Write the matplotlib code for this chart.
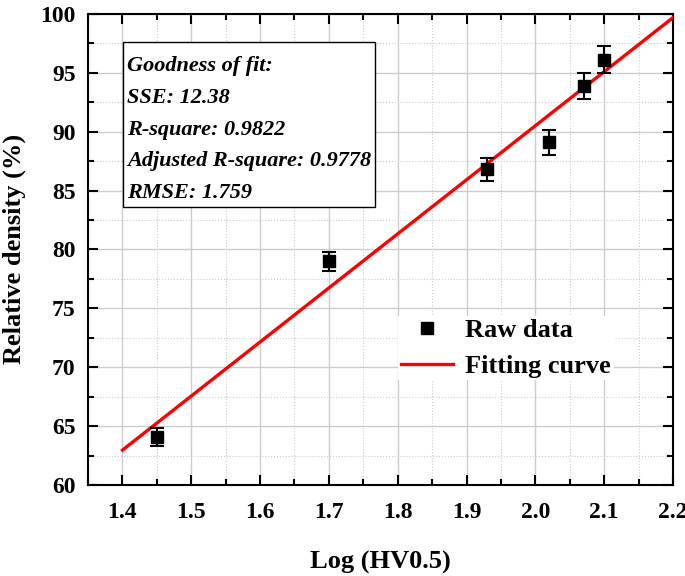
import matplotlib
matplotlib.use("Agg")
import matplotlib.pyplot as plt
from matplotlib.ticker import MultipleLocator
from matplotlib.patches import Rectangle
from matplotlib.lines import Line2D
import numpy as np

# raw data
log_hv = [1.45, 1.70, 1.93, 2.02, 2.07, 2.10]
rel_density = [64.1, 79.0, 86.8, 89.1, 93.9, 96.1]
density_err = [0.75, 0.8, 1.0, 1.05, 1.1, 1.15]

# linear fit
fit_slope = 45.9
fit_intercept = -1.3
fit_range = [1.4, 2.2]

x_ticks = [1.4, 1.5, 1.6, 1.7, 1.8, 1.9, 2.0, 2.1, 2.2]

stats_lines = ["Goodness of fit:", "SSE: 12.38", "R-square: 0.9822",
               "Adjusted R-square: 0.9778", "RMSE: 1.759"]

plt.rcParams['font.family'] = ['Liberation Serif', 'DejaVu Serif']

fig = plt.figure(figsize=(6.85, 5.76), dpi=100)
ax = fig.add_axes([0.1285, 0.158, 0.854, 0.818])

fx = np.array(fit_range)
ax.plot(fx, fit_slope * fx + fit_intercept, color='red', lw=2.4, zorder=3)
ax.errorbar(log_hv, rel_density, yerr=density_err, fmt='s', color='black', ms=8.5,
            capsize=5, elinewidth=1.5, capthick=1.5, zorder=4)

ax.set_xlim(1.35, 2.2)
ax.set_ylim(60, 100)
ax.set_xticks(x_ticks)
ax.set_xticklabels([f"{v:.1f}" for v in x_ticks])
ax.xaxis.set_minor_locator(MultipleLocator(0.05))
ax.yaxis.set_major_locator(MultipleLocator(5))
ax.yaxis.set_minor_locator(MultipleLocator(2.5))

ax.grid(which='major', color='#cccccc', lw=1.0, ls='-')
ax.grid(which='minor', color='#cccccc', lw=0.8, ls=':')
ax.set_axisbelow(True)

ax.tick_params(which='both', direction='in', top=True, right=True, labelsize=17)
ax.tick_params(axis='x', pad=12)
ax.tick_params(axis='y', pad=9)
ax.tick_params(which='major', length=7, width=1.5)
ax.tick_params(which='minor', length=4, width=1.5)
for lab in ax.get_xticklabels() + ax.get_yticklabels():
    lab.set_fontweight('bold')
for sp in ax.spines.values():
    sp.set_linewidth(1.5)

ax.set_xlabel("Log (HV0.5)", fontsize=19, fontweight='bold', labelpad=20)
ax.set_ylabel("Relative density (%)", fontsize=19, fontweight='bold', labelpad=10)

# goodness of fit box
ax.add_patch(Rectangle((0.06, 0.590), 0.431, 0.350, transform=ax.transAxes,
                       facecolor='white', edgecolor='black', lw=1.0, zorder=5))
ax.text(0.067, 0.910, "\n".join(stats_lines), transform=ax.transAxes, va='top', ha='left',
        fontsize=16, fontweight='bold', fontstyle='italic', linespacing=1.78, zorder=6)

handles = [Line2D([], [], ls='none', marker='s', color='black', ms=8.5),
           Line2D([], [], color='red', lw=2.4)]
leg = ax.legend(handles, ["Raw data", "Fitting curve"], loc='upper left',
                bbox_to_anchor=(0.53, 0.358), prop={'weight': 'bold', 'size': 19},
                frameon=True, handlelength=2.0, handletextpad=0.45,
                borderaxespad=0, borderpad=0.1, labelspacing=0.45, fancybox=False)
leg.get_frame().set_edgecolor('none')
leg.get_frame().set_facecolor('white')
leg.get_frame().set_alpha(1)

fig.savefig("out.png", dpi=100)
